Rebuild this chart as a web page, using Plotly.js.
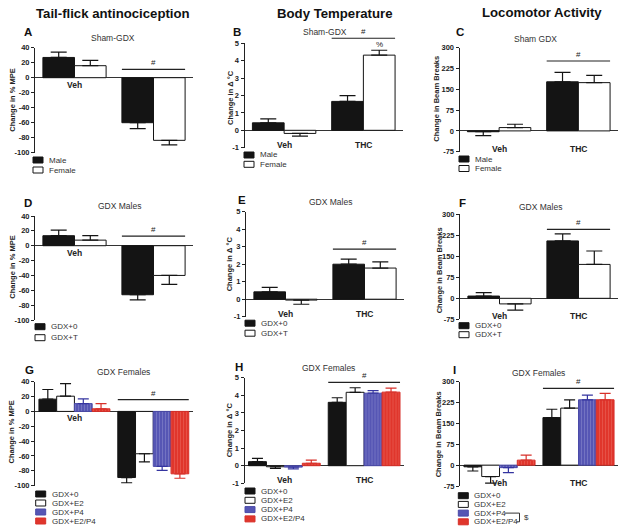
<!DOCTYPE html>
<html><head><meta charset="utf-8">
<script src="https://cdn.plot.ly/plotly-3.0.1.min.js"></script>
<style>html,body{margin:0;padding:0;background:#fff}</style>
</head><body><div id="chart" style="width:626px;height:532px"></div>
<script>
// ---------------- DATA ----------------
const categories = ['Veh', 'THC'];
// Tail-flick antinociception (change in % MPE): mean and SEM
const tailShamMale = [27, -60],    tailShamMaleSem = [7, 8];
const tailShamFemale = [16, -83.5], tailShamFemaleSem = [7, 6];
const tailGdxM0 = [13.5, -66],     tailGdxM0Sem = [7.5, 7];
const tailGdxMT = [7.5, -40],      tailGdxMTSem = [6, 12];
const tailGdxF0 = [16.5, -89],     tailGdxF0Sem = [13, 7];
const tailGdxFE2 = [20.5, -57],    tailGdxFE2Sem = [17, 11];
const tailGdxFP4 = [10.5, -74],    tailGdxFP4Sem = [6.5, 5.5];
const tailGdxFE2P4 = [3.5, -84],   tailGdxFE2P4Sem = [7, 6];
// Body temperature (change in delta degC)
const tempShamMale = [0.43, 1.66],   tempShamMaleSem = [0.23, 0.33];
const tempShamFemale = [-0.18, 4.32], tempShamFemaleSem = [0.15, 0.28];
const tempGdxM0 = [0.42, 2.0],       tempGdxM0Sem = [0.25, 0.29];
const tempGdxMT = [-0.05, 1.78],     tempGdxMTSem = [0.24, 0.35];
const tempGdxF0 = [0.23, 3.6],       tempGdxF0Sem = [0.19, 0.26];
const tempGdxFE2 = [-0.06, 4.17],    tempGdxFE2Sem = [0.09, 0.26];
const tempGdxFP4 = [-0.08, 4.12],    tempGdxFP4Sem = [0.1, 0.15];
const tempGdxFE2P4 = [0.14, 4.18],   tempGdxFE2P4Sem = [0.18, 0.23];
// Locomotor activity (change in beam breaks)
const locoShamMale = [-3, 177],    locoShamMaleSem = [14, 34];
const locoShamFemale = [12, 174],  locoShamFemaleSem = [12, 26];
const locoGdxM0 = [8, 205],        locoGdxM0Sem = [12, 25];
const locoGdxMT = [-20, 121],      locoGdxMTSem = [22, 48];
const locoGdxF0 = [-6, 171],       locoGdxF0Sem = [15, 30];
const locoGdxFE2 = [-41, 205],     locoGdxFE2Sem = [24, 30];
const locoGdxFP4 = [-9, 235],      locoGdxFP4Sem = [18, 17];
const locoGdxFE2P4 = [18, 235],    locoGdxFE2P4Sem = [18, 23];
// Group names
const shamNames = ['Male', 'Female'];
const gdxMaleNames = ['GDX+0', 'GDX+T'];
const gdxFemaleNames = ['GDX+0', 'GDX+E2', 'GDX+P4', 'GDX+E2/P4'];
// '#' significance bracket level (data units) per panel A..I
const sigLevels = [11, 5.29, 252, 13, 2.86, 246, 16, 4.74, 276];
// Text
const columnTitles = ['Tail-flick antinociception', 'Body Temperature', 'Locomotor Activity'];
const panelLetters = ['A','B','C','D','E','F','G','H','I'];
const panelSubtitles = ['Sham-GDX','Sham-GDX','Sham GDX','GDX Males','GDX Males','GDX Males','GDX Females','GDX Females','GDX Females'];
const yTitles = ['Change in % MPE', 'Change in \u0394 \u00B0C', 'Change in Beam Breaks'];

// ---------------- STYLE / LAYOUT ----------------
const W = 626, H = 532;
const FONT = 'Liberation Sans, Arial, sans-serif';
const styles = {
  'Male':      {fill:'#141414', line:'#141414', err:'#141414'},
  'Female':    {fill:'#ffffff', line:'#141414', err:'#141414'},
  'GDX+0':     {fill:'#141414', line:'#141414', err:'#141414'},
  'GDX+T':     {fill:'#ffffff', line:'#141414', err:'#141414'},
  'GDX+E2':    {fill:'#ffffff', line:'#141414', err:'#141414'},
  'GDX+P4':    {fill:'#5656b4', line:'#4a4aa8', err:'#3434a0', stripe:'#9696d4'},
  'GDX+E2/P4': {fill:'#e0362c', line:'#d8302a', err:'#d8302a', stripe:'#ee7068'}
};
const yRanges = [[-100, 40, 20], [-1, 5, 1], [-75, 300, 75]];

const panels = [
  {names: shamNames, means:[tailShamMale, tailShamFemale], sems:[tailShamMaleSem, tailShamFemaleSem], col:0,
   gx:[35,193], gy:[47.7,152.7], letter:[28,32.5], sub:[113,38], ytitle:[11.7,100], leg:[33,160,10], labels:'zero'},
  {names: shamNames, means:[tempShamMale, tempShamFemale], sems:[tempShamMaleSem, tempShamFemaleSem], col:1,
   gx:[244.5,403], gy:[43.3,147.7], letter:[237,32.5], sub:[325,32], ytitle:[230,98], leg:[244,155,9.3], labels:'bottom'},
  {names: shamNames, means:[locoShamMale, locoShamFemale], sems:[locoShamMaleSem, locoShamFemaleSem], col:2,
   gx:[459.5,618], gy:[47.7,151.7], letter:[460,31.5], sub:[535,39.3], ytitle:[436.7,99], leg:[459,159,9.5], labels:'bottom'},
  {names: gdxMaleNames, means:[tailGdxM0, tailGdxMT], sems:[tailGdxM0Sem, tailGdxMTSem], col:0,
   gx:[35,193], gy:[216,320], letter:[28,202.5], sub:[119,205.7], ytitle:[11.7,267], leg:[35,326.7,11], labels:'zero'},
  {names: gdxMaleNames, means:[tempGdxM0, tempGdxMT], sems:[tempGdxM0Sem, tempGdxMTSem], col:1,
   gx:[246,404], gy:[211.7,316.7], letter:[241.7,200.5], sub:[330,201.7], ytitle:[229.3,264], leg:[245,323.2,10], labels:'bottom'},
  {names: gdxMaleNames, means:[locoGdxM0, locoGdxMT], sems:[locoGdxM0Sem, locoGdxMTSem], col:2,
   gx:[460,618], gy:[214.3,319.3], letter:[462.7,202.5], sub:[540.7,207.3], ytitle:[439.3,270], leg:[459,325.7,9], labels:'bottom'},
  {names: gdxFemaleNames, means:[tailGdxF0, tailGdxFE2, tailGdxFP4, tailGdxFE2P4], sems:[tailGdxF0Sem, tailGdxFE2Sem, tailGdxFP4Sem, tailGdxFE2P4Sem], col:0,
   gx:[35,192.7], gy:[381.7,485.7], letter:[29,369.5], sub:[123,371.7], ytitle:[10.5,432], leg:[35.7,494,9], labels:'zero'},
  {names: gdxFemaleNames, means:[tempGdxF0, tempGdxFE2, tempGdxFP4, tempGdxFE2P4], sems:[tempGdxF0Sem, tempGdxFE2Sem, tempGdxFP4Sem, tempGdxFE2P4Sem], col:1,
   gx:[244.5,404], gy:[377.7,483.3], letter:[239,366.5], sub:[328.3,368.3], ytitle:[229.3,430], leg:[245,491,9.3], labels:'bottom'},
  {names: gdxFemaleNames, means:[locoGdxF0, locoGdxFE2, locoGdxFP4, locoGdxFE2P4], sems:[locoGdxF0Sem, locoGdxFE2Sem, locoGdxFP4Sem, locoGdxFE2P4Sem], col:2,
   gx:[460,618], gy:[381.7,486], letter:[455,369.5], sub:[538.3,373.3], ytitle:[438.3,434], leg:[458.3,495.7,8.7], labels:'bottom'}
];

const traces = [], annotations = [], shapes = [];
const layout = {
  width: W, height: H, margin:{l:0,r:0,t:0,b:0}, showlegend:false,
  paper_bgcolor:'#fff', plot_bgcolor:'rgba(0,0,0,0)', barmode:'overlay',
  font:{family:FONT, color:'#222'}
};
const px = v => v / W, py = v => 1 - v / H;

const colCenters = [113, 335, 541.7];
columnTitles.forEach((t, i) => annotations.push({xref:'paper', yref:'paper', x:px(colCenters[i]), y:py(i===2?12.3:13),
  text:t, showarrow:false, xanchor:'center', yanchor:'middle', font:{family:FONT, size:13.2, weight:'bold', color:'#111'}}));

panels.forEach((p, k) => {
  const s = k === 0 ? '' : String(k + 1);
  const xa = 'x' + s, ya = 'y' + s;
  const [ymin, ymax, dt] = yRanges[p.col];
  const n = p.names.length;
  const bw = n === 2 ? 0.4 : 0.225;
  const tv = []; for (let v = ymin; v <= ymax + 1e-9; v += dt) tv.push(v);
  layout['xaxis' + s] = {domain:[px(p.gx[0]), px(p.gx[1])], anchor:ya, type:'category', range:[-0.5, 1.5], visible:false, fixedrange:true};
  layout['yaxis' + s] = {domain:[py(p.gy[1]), py(p.gy[0])], anchor:xa, range:[ymin, ymax], showgrid:false,
    zeroline:true, zerolinecolor:'#333', zerolinewidth:1, showline:true, linecolor:'#222', linewidth:1,
    ticks:'outside', ticklen:3, tickwidth:1, tickcolor:'#222', tickmode:'array', tickvals:tv, ticktext:tv.map(v => String(v)),
    tickfont:{family:FONT, size:7.5, weight:'bold', color:'#222'}, fixedrange:true};

  p.names.forEach((name, j) => {
    const st = styles[name];
    const m = p.means[j], se = p.sems[j];
    const marker = {color:st.fill, line:{color:st.line, width:1}};
    if (st.stripe) marker.pattern = {shape:'|', fgcolor:st.stripe, bgcolor:st.fill, size:3, solidity:0.3, fillmode:'overlay'};
    traces.push({type:'bar', x:categories, y:m, xaxis:xa, yaxis:ya, name:name,
      width:bw, offset:-n*bw/2 + j*bw, marker:marker, hoverinfo:'skip',
      error_y:{type:'data', symmetric:false, array:m.map((v,i)=> v >= 0 ? se[i] : 0), arrayminus:m.map((v,i)=> v < 0 ? se[i] : 0),
        color:st.err, thickness:1.2, width: n === 2 ? 8 : 5.5}});
  });

  // significance bracket '#'
  const d0 = (1 - n*bw/2 + 0.5) / 2, d1 = (1 + n*bw/2 + 0.5) / 2;
  const ld = (sigLevels[k] - ymin) / (ymax - ymin);
  shapes.push({type:'line', xref:xa + ' domain', yref:ya + ' domain', x0:d0, x1:d1, y0:ld, y1:ld, line:{color:'#222', width:1.2}});
  annotations.push({xref:xa + ' domain', yref:ya + ' domain', x:(d0+d1)/2, y:ld, text:'#', showarrow:false,
    xanchor:'center', yanchor:'bottom', yshift:0, font:{family:FONT, size:8, color:'#222'}});

  // category labels
  if (p.labels === 'zero') {
    annotations.push({xref:xa, yref:ya, x:0, y:0, text:categories[0], showarrow:false, xanchor:'center', yanchor:'middle', yshift:-7,
      font:{family:FONT, size:8.5, weight:'bold', color:'#222'}});
  } else {
    categories.forEach((c, i) => annotations.push({xref:xa, yref:ya, x:i, y:ymin, text:c, showarrow:false, xanchor:'center', yanchor:'middle', yshift:3,
      font:{family:FONT, size:8.5, weight:'bold', color:'#222'}}));
  }

  // letter, subtitle, y title
  annotations.push({xref:'paper', yref:'paper', x:px(p.letter[0]), y:py(p.letter[1]), text:panelLetters[k], showarrow:false,
    xanchor:'center', yanchor:'middle', font:{family:FONT, size:11.5, weight:'bold', color:'#111'}});
  annotations.push({xref:'paper', yref:'paper', x:px(p.sub[0]), y:py(p.sub[1]), text:panelSubtitles[k], showarrow:false,
    xanchor:'center', yanchor:'middle', font:{family:FONT, size:8.5, color:'#333'}});
  annotations.push({xref:'paper', yref:'paper', x:px(p.ytitle[0]), y:py(p.ytitle[1]), text:yTitles[p.col], showarrow:false,
    textangle:-90, xanchor:'center', yanchor:'middle', font:{family:FONT, size:7.5, weight:'bold', color:'#222'}});

  // legend
  const [lx, ly, dy] = p.leg;
  p.names.forEach((name, j) => {
    const st = styles[name];
    const cy = ly + j * dy;
    shapes.push({type:'rect', xref:'paper', yref:'paper', x0:px(lx), x1:px(lx+10), y0:py(cy+3), y1:py(cy-3),
      fillcolor:st.fill, line:{color:st.line, width:1}});
    annotations.push({xref:'paper', yref:'paper', x:px(lx+14), y:py(cy), text:name, showarrow:false,
      xanchor:'left', yanchor:'middle', font:{family:FONT, size:8, color:'#333'}});
  });
});

// '%' over Sham female THC temperature bar
annotations.push({xref:'x2', yref:'y2', x:1.2, y:tempShamFemale[1] + tempShamFemaleSem[1], text:'%', showarrow:false,
  xanchor:'center', yanchor:'bottom', yshift:-1, font:{family:FONT, size:8, color:'#222'}});

// '$' bracket in panel I legend (GDX+P4 vs GDX+E2/P4)
const legI = panels[8].leg;
const yP4 = legI[1] + 2*legI[2], yE2P4 = legI[1] + 3*legI[2];
shapes.push({type:'path', xref:'paper', yref:'paper',
  path:`M ${px(505)} ${py(yP4)} L ${px(519.5)} ${py(yP4)} L ${px(519.5)} ${py(yE2P4)} L ${px(516.5)} ${py(yE2P4)}`,
  line:{color:'#333', width:1}});
annotations.push({xref:'paper', yref:'paper', x:px(522), y:py((yP4+yE2P4)/2), text:'$', showarrow:false,
  xanchor:'left', yanchor:'middle', font:{family:FONT, size:8, color:'#333'}});

layout.annotations = annotations;
layout.shapes = shapes;
Plotly.newPlot('chart', traces, layout, {displayModeBar:false, staticPlot:true});
</script>
</body></html>
